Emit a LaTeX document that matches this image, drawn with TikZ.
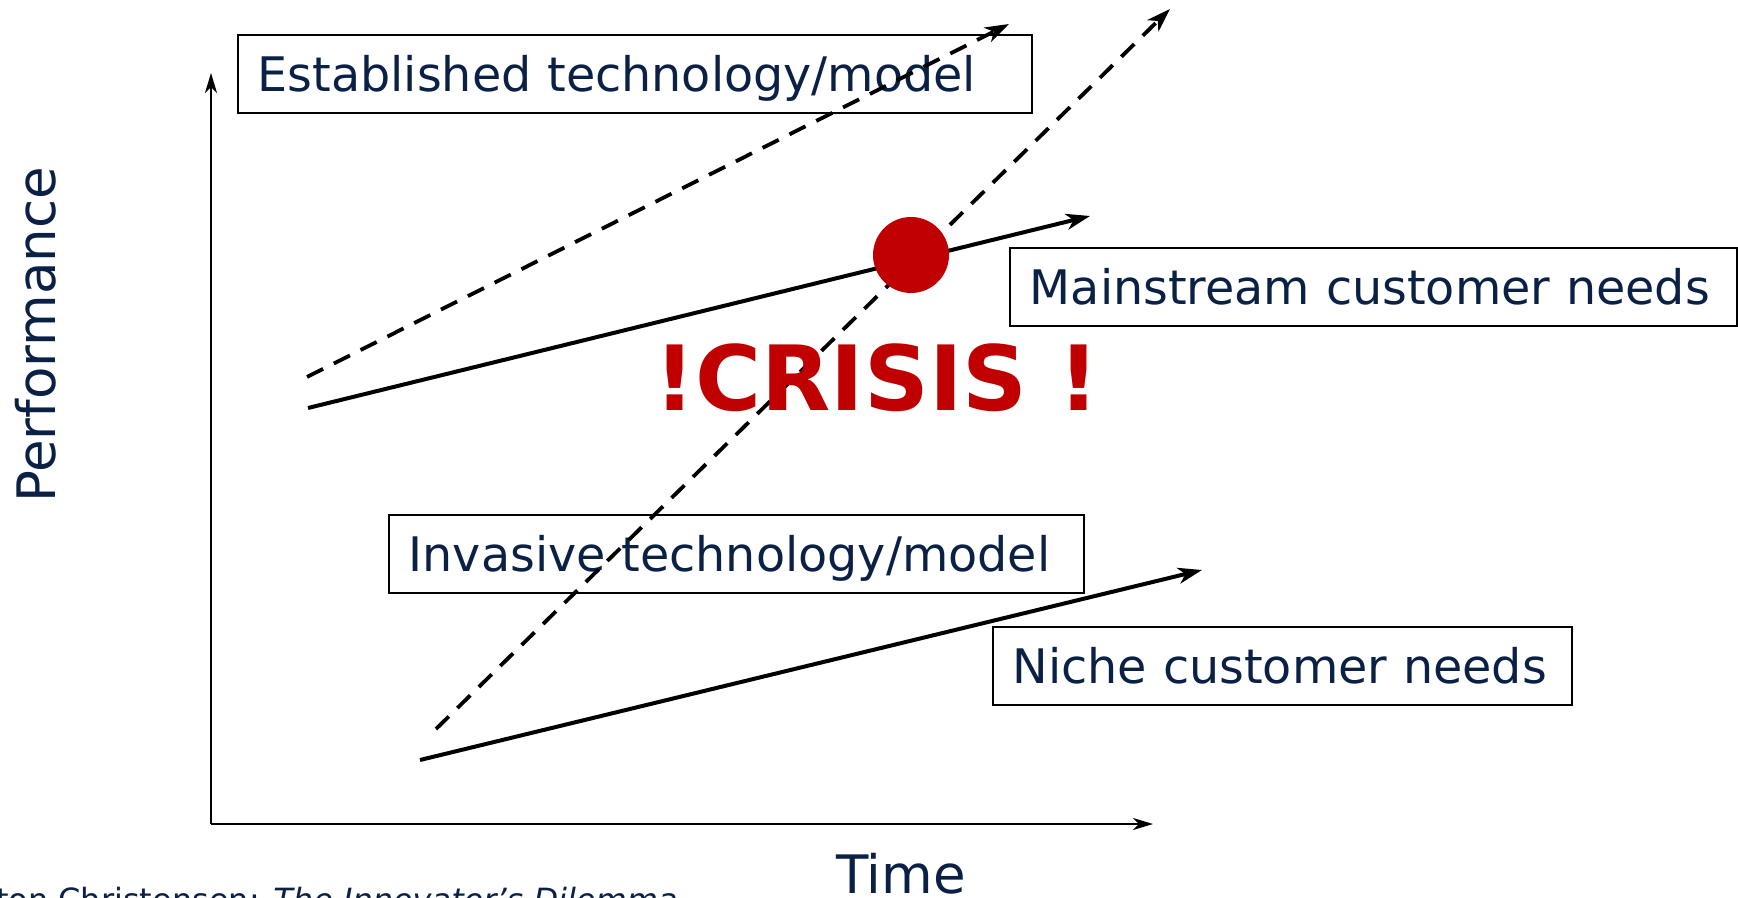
\documentclass[tikz,border=0pt]{standalone}
\usepackage{fontspec}
\setmainfont{DejaVu Sans}
\usetikzlibrary{arrows.meta}
\definecolor{navy}{HTML}{0A2145}
\definecolor{crisisred}{HTML}{C00000}
\begin{document}
\begin{tikzpicture}[x=0.5pt,y=-0.5pt,
  lbl/.style={draw=black, line width=0.75pt, text=navy, anchor=west,
    font=\fontsize{23.8pt}{28pt}\selectfont, align=left,
    inner xsep=10pt, inner ysep=0pt, minimum height=39pt,
    text height=17.4pt, text depth=0pt},
  axis/.style={line width=1.1pt, -{Stealth[length=10pt,width=6pt,inset=3pt]}},
  solidline/.style={line width=2pt, -{Stealth[length=12pt,width=8pt,inset=3.5pt]}},
  dashline/.style={line width=1.9pt, dash pattern=on 9pt off 6pt, -{Stealth[length=12pt,width=8pt,inset=3.5pt]}},
  axlabel/.style={text=navy, font=\fontsize{26.5pt}{30pt}\selectfont, inner sep=0pt}
]
\useasboundingbox (0,0) rectangle (1738,898);

% coordinates
\coordinate (origin) at (211,824);
\coordinate (ytop) at (211,73);
\coordinate (xend) at (1153,824);
\coordinate (estS) at (307,377);  \coordinate (estE) at (1009,24);
\coordinate (mainS) at (308,408); \coordinate (mainE) at (1090,216);
\coordinate (invS) at (436,729);  \coordinate (invE) at (1170,9);
\coordinate (nicS) at (420,760);  \coordinate (nicE) at (1202,570);

% axes
\draw[axis] (origin) -- (ytop);
\draw[axis] (origin) -- (xend);

% labels
\node[lbl, text width=377pt] (est) at (237,74) {Established technology/model};
\node[lbl, text width=343.5pt] (main) at (1009,287) {Mainstream customer needs};
\node[lbl, text width=327.5pt] (inv) at (388,554) {Invasive technology/model};
\node[lbl, text width=269.5pt] (nic) at (992,666) {Niche customer needs};

% lines
\draw[dashline] (estS) -- (estE);
\draw[solidline] (mainS) -- (mainE);
\draw[dashline] (invS) -- (invE);
\draw[solidline] (nicS) -- (nicE);

% crisis
\node[circle, fill=crisisred, minimum size=38pt, inner sep=0pt] (dot) at (911,255) {};
\node[text=crisisred, font=\bfseries\fontsize{45pt}{52pt}\selectfont, anchor=base, inner sep=0pt] (crisis) at (877,410) {!CRISIS !};

% axis titles
\node[axlabel, rotate=90, anchor=base] (perf) at (55,335) {Performance};
\node[axlabel, anchor=base] (time) at (901,893) {Time};

% citation
\node[text=navy, font=\fontsize{16pt}{19pt}\selectfont, anchor=base east, inner sep=0pt] (cite) at (678,911) {Clayton Christensen: \textit{The Innovator's Dilemma}};
\end{tikzpicture}
\end{document}
